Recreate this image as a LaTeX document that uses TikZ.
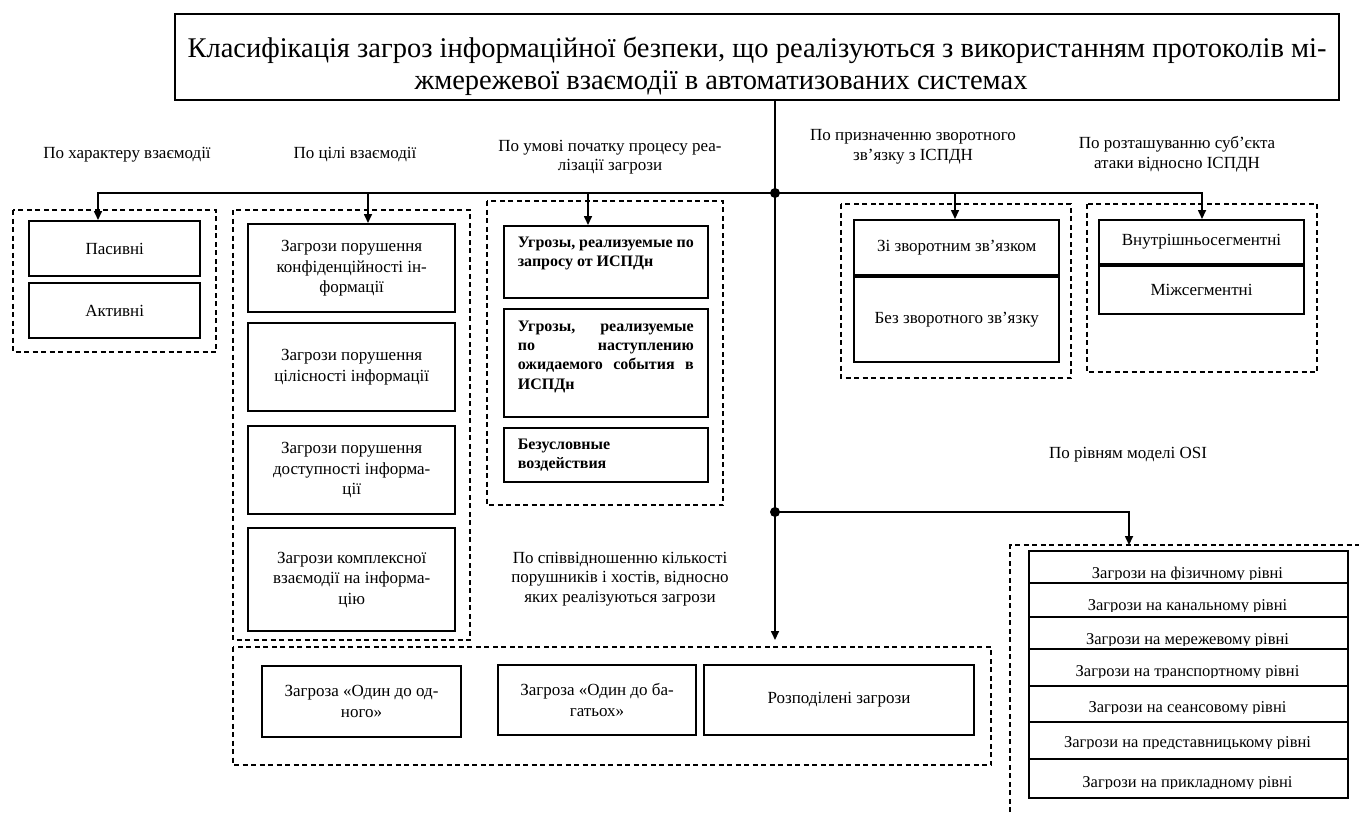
\documentclass[tikz,border=0pt]{standalone}
\usepackage{fontspec}
\setmainfont{Liberation Serif}
\usetikzlibrary{arrows.meta,calc}

\begin{document}
\begin{tikzpicture}[x=1pt,y=-1pt,
  lab/.style={font=\fontsize{17}{19.5}\selectfont, align=center, inner sep=0pt},
  bx/.style={draw, line width=2.4pt, fill=white, font=\fontsize{17}{20.5}\selectfont,
    align=center, inner sep=0pt, anchor=north west},
  thinbx/.style={bx, line width=1.6pt},
  ruslbl/.style={thinbx, font=\fontsize{16}{19.3}\selectfont\bfseries},
  osirow/.style={draw, line width=1.6pt, fill=white, inner sep=0pt, anchor=north west,
    minimum width=319},
  ositext/.style={font=\fontsize{16.5}{19}\selectfont, inner sep=0pt, anchor=base},
  grp/.style={draw, dash pattern=on 5pt off 3.5pt, line width=1.3pt},
  conn/.style={line width=1.6pt},
  arr/.style={conn, -{Triangle[length=9pt,width=8pt]}},
  hubdot/.style={circle, fill, inner sep=0pt, minimum size=10pt}]

\useasboundingbox (0,0) rectangle (1359,812);

% title
\node[bx, line width=2pt, minimum width=1164, minimum height=86,
      font=\fontsize{28.5}{32}\selectfont] (title) at (174,13)
  {\rule{0pt}{40pt}Класифікація загроз інформаційної безпеки, що реалізуються з використанням протоколів мі-\\
   жмережевої взаємодії в автоматизованих системах\hspace*{72pt}};

% criteria headings
\node[lab] (h1) at (127,155) {По характеру взаємодії};
\node[lab] (h2) at (355,155) {По цілі взаємодії};
\node[lab] (h3) at (610,157) {По умові початку процесу реа-\\лізації загрози};
\node[lab] (h4) at (913,147) {По призначенню зворотного\\зв’язку з ІСПДН};
\node[lab] (h5) at (1177,154) {По розташуванню суб’єкта\\атаки відносно ІСПДН};
\node[lab] (h6) at (1128,455) {По рівням моделі OSI};
\node[lab] (h7) at (620,579) {По співвідношенню кількості\\порушників і хостів, відносно\\яких реалізуються загрози};

% group frames
\draw[grp] (13,210) rectangle (216,352);
\draw[grp] (233,210) rectangle (470,640);
\draw[grp] (487,201) rectangle (723,505);
\draw[grp] (841,204) rectangle (1071,378);
\draw[grp] (1087,204) rectangle (1317,372);
\draw[grp] (233,647) rectangle (991,765);
\draw[grp] (1010,812) -- (1010,545) -- (1359,545);

% by character of interaction
\node[bx, minimum width=171, minimum height=55] (pas) at (28,220) {Пасивні};
\node[bx, minimum width=171, minimum height=55] (akt) at (28,282) {Активні};

% by goal of interaction
\node[bx, minimum width=207, minimum height=88] (conf) at (247,223)
  {Загрози порушення\\конфіденційності ін-\\формації};
\node[bx, minimum width=207, minimum height=88] (integ) at (247,322)
  {Загрози порушення\\цілісності інформації};
\node[bx, minimum width=207, minimum height=88] (avail) at (247,425)
  {Загрози порушення\\доступності інформа-\\ції};
\node[bx, minimum width=207, minimum height=103] (compl) at (247,527)
  {Загрози комплексної\\взаємодії на інформа-\\цію};

% by start condition
\node[ruslbl, minimum width=204, minimum height=72] (req) at (503,225)
  {\parbox[c][50pt][t]{176pt}{Угрозы,\hfill реализуемые\hfill по\\запросу от ИСПДн}};
\node[ruslbl, minimum width=204, minimum height=108] (evt) at (503,308)
  {\parbox[c][84pt][t]{176pt}{Угрозы,\hfill реализуемые\\по\hfill наступлению\\ожидаемого\hfill события\hfill в\\ИСПДн}};
\node[ruslbl, minimum width=204, minimum height=54] (uncond) at (503,427)
  {\parbox[c][32pt][t]{176pt}{Безусловные\\воздействия}};

% by feedback
\node[bx, minimum width=205, minimum height=55] (fb) at (853,219) {Зі зворотним зв’язком};
\node[bx, minimum width=205, minimum height=85] (nofb) at (853,276) {Без зворотного зв’язку};

% by attacker location
\node[bx, line width=2pt, minimum width=205, minimum height=44] (intra) at (1098,219) {Внутрішньосегментні};
\node[bx, line width=2pt, minimum width=205, minimum height=48] (inter) at (1098,265) {Міжсегментні};

% by number of intruders and hosts
\node[thinbx, line width=2pt, minimum width=199, minimum height=71] (one) at (261,665) {Загроза «Один до од-\\ного»};
\node[thinbx, line width=2pt, minimum width=198, minimum height=70] (many) at (497,664) {Загроза «Один до ба-\\гатьох»};
\node[thinbx, line width=2pt, minimum width=270, minimum height=70] (distr) at (703,664) {Розподілені загрози};

% OSI levels
\node[osirow, minimum height=32] (osi1) at (1028,550) {};
\node[osirow, minimum height=34] (osi2) at (1028,582) {};
\node[osirow, minimum height=32] (osi3) at (1028,616) {};
\node[osirow, minimum height=37] (osi4) at (1028,648) {};
\node[osirow, minimum height=36] (osi5) at (1028,685) {};
\node[osirow, minimum height=37] (osi6) at (1028,721) {};
\node[osirow, minimum height=39] (osi7) at (1028,758) {};
\begin{scope}\clip (osi1.north west) rectangle (1347,579);
  \node[ositext] at (1187.5,578) {Загрози на фізичному рівні};\end{scope}
\begin{scope}\clip (osi2.north west) rectangle (1347,611);
  \node[ositext] at (1187.5,610) {Загрози на канальному рівні};\end{scope}
\begin{scope}\clip (osi3.north west) rectangle (1347,645);
  \node[ositext] at (1187.5,644) {Загрози на мережевому рівні};\end{scope}
\begin{scope}\clip (osi4.north west) rectangle (1347,677);
  \node[ositext] at (1187.5,676) {Загрози на транспортному рівні};\end{scope}
\begin{scope}\clip (osi5.north west) rectangle (1347,713);
  \node[ositext] at (1187.5,712) {Загрози на сеансовому рівні};\end{scope}
\begin{scope}\clip (osi6.north west) rectangle (1347,748);
  \node[ositext] at (1187.5,747) {Загрози на представницькому рівні};\end{scope}
\begin{scope}\clip (osi7.north west) rectangle (1347,788);
  \node[ositext] at (1187.5,787) {Загрози на прикладному рівні};\end{scope}

% connectors
\coordinate (hubA) at (775,193);
\coordinate (hubB) at (775,512);
\coordinate (inPas) at (98,220);
\coordinate (inLoc) at (1202,219);
\coordinate (tapGoal) at (368,193);
\coordinate (tapCond) at (588,193);
\coordinate (tapFb) at (955,193);
\coordinate (inOsi) at (1129,545);
\coordinate (inNum) at (775,640);

\draw[conn] (title.south -| hubA) -- (hubA) -- (hubB);
\draw[arr] (hubA) -| (inPas);
\draw[arr] (hubA) -| (inLoc);
\draw[arr] (tapGoal) -- (tapGoal |- conf.north);
\draw[arr] (tapCond) -- (tapCond |- req.north);
\draw[arr] (tapFb) -- (tapFb |- fb.north);
\draw[arr] (hubB) -| (inOsi);
\draw[arr] (hubB) -- (inNum);
\node[hubdot] at (hubA) {};
\node[hubdot] at (hubB) {};
\end{tikzpicture}
\end{document}
